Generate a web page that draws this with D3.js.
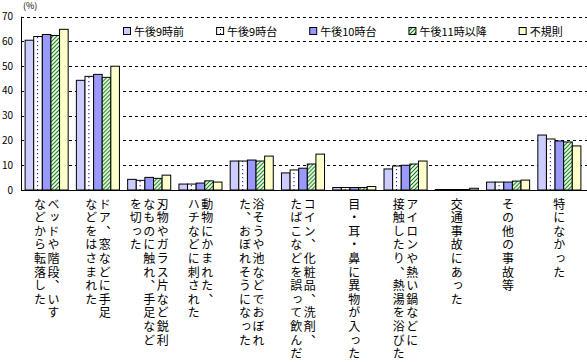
<!DOCTYPE html>
<html><head><meta charset="utf-8">
<script src="https://cdn.jsdelivr.net/npm/d3@7"></script>
<style>
html,body{margin:0;padding:0;background:#fff;}
svg{display:block;}
text{font-family:"Noto Sans CJK JP","Noto Sans",sans-serif;fill:#000;}
</style></head>
<body>
<svg id="chart" width="587" height="362"></svg>
<script>
const categories = [
  ["ベッドや階段、いす","などから転落した"],
  ["ドア、窓などに手足","などをはさまれた"],
  ["刃物やガラス片など鋭利","なものに触れ、手足など","を切った"],
  ["動物にかまれた、","ハチなどに刺された"],
  ["浴そうや池などでおぼれ","た、おぼれそうになった"],
  ["コイン、化粧品、洗剤、","たばこなどを誤って飲んだ"],
  ["目・耳・鼻に異物が入った"],
  ["アイロンや熱い鍋などに","接触したり、熱湯を浴びた"],
  ["交通事故にあった"],
  ["その他の事故等"],
  ["特になかった"]
];
const seriesNames = ["午後9時前","午後9時台","午後10時台","午後11時以降","不規則"];
const s_before9 = [60.5, 44.3, 4.3, 2.4, 11.7, 6.9, 1.0, 8.5, 0.2, 3.2, 22.2];
const s_at9     = [62.0, 45.9, 3.9, 2.4, 11.7, 8.1, 1.0, 9.7, 0.2, 3.2, 20.6];
const s_at10    = [62.8, 46.7, 5.1, 2.8, 12.1, 8.8, 1.0, 10.0, 0.2, 3.2, 19.8];
const s_after11 = [62.4, 45.5, 4.7, 3.7, 11.7, 10.5, 1.0, 10.5, 0.2, 3.6, 19.4];
const s_irreg   = [64.9, 50.0, 6.0, 3.2, 13.7, 14.5, 1.4, 11.7, 0.7, 4.0, 17.8];
const seriesValues = [s_before9, s_at9, s_at10, s_after11, s_irreg];
const yTicks = [0,10,20,30,40,50,60,70];

const svg = d3.select("#chart");
const defs = svg.append("defs");
// dotted pattern (午後9時台)
const pDot = defs.append("pattern").attr("id","pDot").attr("patternUnits","userSpaceOnUse")
  .attr("width",8).attr("height",4);
pDot.append("rect").attr("width",8).attr("height",4).attr("fill","#fff");
pDot.append("rect").attr("x",4).attr("y",1).attr("width",1).attr("height",1.2).attr("fill","#0000ff");
// hatch pattern (午後11時以降)
const pHatch = defs.append("pattern").attr("id","pHatch").attr("patternUnits","userSpaceOnUse")
  .attr("width",4).attr("height",4);
pHatch.append("rect").attr("width",4).attr("height",4).attr("fill","#fff");
pHatch.append("path").attr("d","M-1,1 L1,-1 M0,4 L4,0 M3,5 L5,3").attr("stroke","#008000").attr("stroke-width",1.1);

const fills = ["#ccccff","url(#pDot)","#9999ff","url(#pHatch)","#ffffcc"];

const mLeft = 21, mRight = 585, mTop = 16.7, mBottom = 190;
const idx = d3.range(categories.length);
const x = d3.scaleBand().domain(idx).range([mLeft,mRight]).paddingInner(0.16).paddingOuter(0.08);
const xs = d3.scaleBand().domain(d3.range(seriesNames.length)).range([0,x.bandwidth()]);
const y = d3.scaleLinear().domain([0,70]).range([mBottom,mTop]);

// gridlines
svg.append("g").selectAll("line").data(yTicks.filter(t=>t>0)).join("line")
  .attr("x1",mLeft).attr("x2",mRight+2).attr("y1",d=>Math.round(y(d))+0.5).attr("y2",d=>Math.round(y(d))+0.5)
  .attr("stroke","#000").attr("stroke-width",1).attr("stroke-dasharray","3,3");

// y tick labels
svg.append("g").selectAll("text").data(yTicks).join("text")
  .attr("x",13).attr("y",d=>y(d)+3.5).attr("text-anchor","end")
  .attr("font-size",10).text(d=>d);
svg.append("text").attr("x",23).attr("y",9).attr("font-size",9).text("(%)");

// bars
const g = svg.append("g");
idx.forEach(i=>{
  const gg = g.append("g").attr("transform",`translate(${x(i)},0)`);
  gg.selectAll("rect").data(seriesValues.map((s,k)=>({k,v:s[i]}))).join("rect")
    .attr("x",d=>xs(d.k)).attr("width",xs.bandwidth())
    .attr("y",d=>y(d.v)).attr("height",d=>mBottom-y(d.v))
    .attr("fill",d=>fills[d.k]).attr("stroke","#000").attr("stroke-width",1);
});

// axes lines
svg.append("line").attr("x1",mLeft+0.5).attr("x2",mLeft+0.5).attr("y1",mTop).attr("y2",mBottom+0.5).attr("stroke","#000");
svg.append("line").attr("x1",mLeft).attr("x2",mRight+2).attr("y1",mBottom+0.5).attr("y2",mBottom+0.5).attr("stroke","#000").attr("stroke-width",1.2);

// category labels (vertical)
const colGap = 13.5;
idx.forEach(i=>{
  const cols = categories[i];
  const cx = x(i) + x.bandwidth()/2;
  const n = cols.length;
  cols.forEach((c,j)=>{
    const xx = cx + ((n-1)/2 - j)*colGap;
    svg.append("text").attr("x",xx).attr("y",198)
      .style("writing-mode","vertical-rl")
      .attr("font-size",12).attr("letter-spacing",1.6)
      .text(c);
  });
});

// legend
const lg = svg.append("g");
let lx = 123;
seriesNames.forEach((name,k)=>{
  lg.append("rect").attr("x",lx+0.5).attr("y",27.5).attr("width",7).attr("height",7)
    .attr("fill",fills[k]).attr("stroke","#000");
  const t = lg.append("text").attr("x",lx+11).attr("y",35.5).attr("font-size",11).text(name);
  const w = t.node().getComputedTextLength();
  lx = lx + 11 + w + 32;
});
</script>
</body></html>
